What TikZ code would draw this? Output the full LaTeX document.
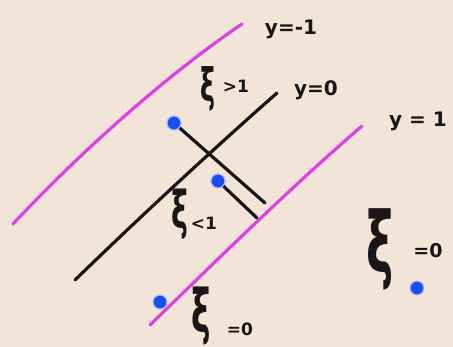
\documentclass[tikz,border=0pt]{standalone}
\usepackage{graphicx}
\usepackage{fontspec}
\setmainfont{DejaVu Sans}
\definecolor{bgc}{RGB}{242,228,214}
\definecolor{magc}{RGB}{222,64,226}
\definecolor{dotc}{RGB}{26,78,245}
\definecolor{inkc}{RGB}{24,22,22}
\newcommand{\fsz}[1]{\fontsize{#1}{#1}\selectfont\bfseries}
\newcommand{\narrowxi}{\scalebox{0.55}[1]{ξ}}
\begin{document}
\begin{tikzpicture}[x=1pt,y=-1pt,
  magline/.style={draw=magc, line width=3.2pt, line cap=round},
  inkline/.style={draw=inkc, line width=3.2pt, line cap=round},
  bluedot/.style={circle, fill=dotc, draw=dotc!35!white, line width=1pt, inner sep=0pt, minimum size=14pt},
  lbl/.style={text=inkc, font=\fsz{20}, inner sep=0pt}]
\fill[bgc] (0,0) rectangle (453,347);
\useasboundingbox (0,0) rectangle (453,347);
% level lines
\draw[magline] (13,224) .. controls (73,160) and (157,82) .. (242,24);
\draw[inkline] (75,280) .. controls (140,217) and (210,152) .. (277,93);
\draw[magline] (150,325) .. controls (215,262) and (290,188) .. (362,126);
% endpoints of the normal segments
\coordinate (e1) at (265,203);
\coordinate (e2) at (257,218);
% dots
\node[bluedot] (d1) at (174,123) {};
\node[bluedot] (d2) at (218,181) {};
\node[bluedot] (d3) at (160,302) {};
\node[bluedot] (d4) at (417,288) {};
\draw[inkline] (d1.center) -- (e1);
\draw[inkline] (d2.center) -- (e2);
\node[bluedot] at (174,123) {};
\node[bluedot] at (218,181) {};
% labels
\node[lbl] (lm1) at (291,29) {y=-1};
\node[lbl] (l0) at (316,90) {y=0};
\node[lbl] (l1) at (418,121) {y = 1};
\node[lbl, font=\fsz{46}] (gtx) at (208,89) {\narrowxi};
\node[lbl, font=\fsz{17}] (gt) at (236,86) {>1};
\node[lbl, font=\fsz{52}] (ltx) at (180,214) {\narrowxi};
\node[lbl, font=\fsz{17}] (lt) at (204,223) {<1};
\node[lbl, font=\fsz{84}] (xibig) at (380,249) {\narrowxi};
\node[lbl, font=\fsz{19}] (eqr) at (428,251) {=0};
\node[lbl, font=\fsz{60}] (xis) at (201,316) {\narrowxi};
\node[lbl, font=\fsz{17}] (eqs) at (240,329) {=0};
\end{tikzpicture}
\end{document}
